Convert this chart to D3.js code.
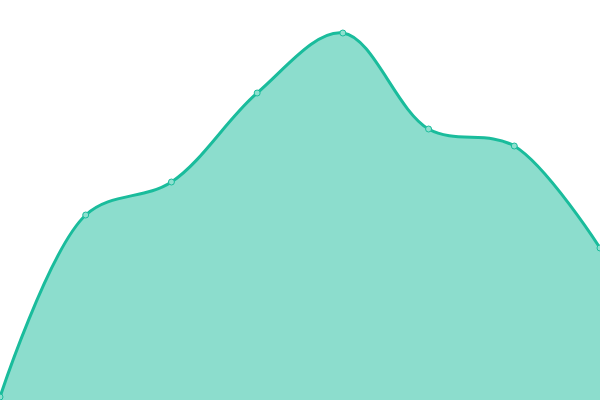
<!DOCTYPE html>
<html>
<head>
<meta charset="utf-8">
<script src="https://cdn.jsdelivr.net/npm/d3@7"></script>
<style>
html,body{margin:0;padding:0;background:#fff;overflow:hidden;}
svg{display:block;}
</style>
</head>
<body>
<svg id="chart" width="600" height="400"></svg>
<script>
const categories = [0, 1, 2, 3, 4, 5, 6, 7];
const values = [3, 185, 218, 307, 367, 271, 254, 152];
const yMax = 400;

const width = 600, height = 400;
const svg = d3.select("#chart");
const x = d3.scaleLinear().domain([0, categories.length - 1]).range([0, width]);
const y = d3.scaleLinear().domain([0, yMax]).range([height, 0]);
const data = categories.map((c, i) => ({c, v: values[i]}));

const curve = d3.curveCatmullRom.alpha(0.5);
const area = d3.area().x(d => x(d.c)).y0(height).y1(d => y(d.v)).curve(curve);
const line = d3.line().x(d => x(d.c)).y(d => y(d.v)).curve(curve);

svg.append("path").datum(data).attr("d", area).attr("fill", "#1abc9c").attr("fill-opacity", 0.5);
svg.append("path").datum(data).attr("d", line).attr("fill", "none").attr("stroke", "#1abc9c").attr("stroke-width", 3);
svg.selectAll("circle").data(data).join("circle")
  .attr("cx", d => x(d.c)).attr("cy", d => y(d.v)).attr("r", 3)
  .attr("fill", "#8ee0cf").attr("stroke", "#1abc9c").attr("stroke-width", 1);
</script>
</body>
</html>
